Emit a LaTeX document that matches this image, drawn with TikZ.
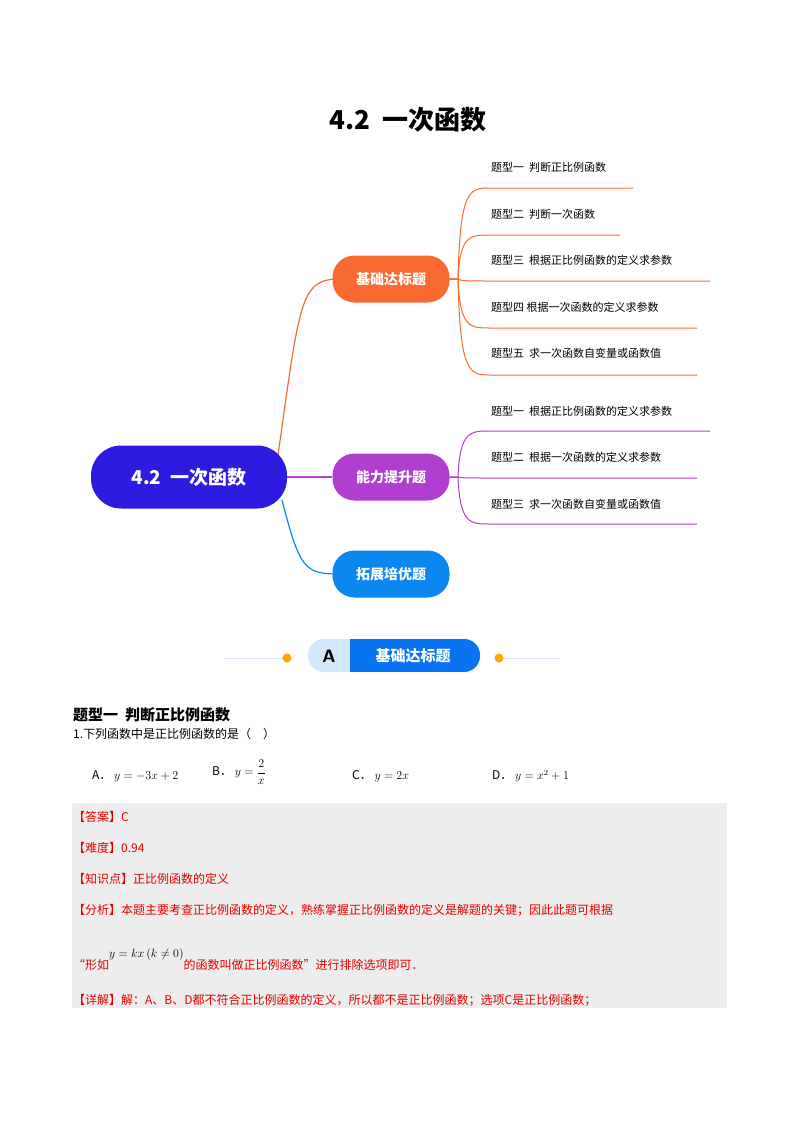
\documentclass[tikz,border=0pt]{standalone}
\usepackage{fontspec}
\newfontfamily\cjk{Noto Sans CJK SC}
\setmainfont{Liberation Serif}
\begin{document}
\begin{tikzpicture}[x=1pt,y=-1pt,
  pill/.style={rounded corners=22pt,minimum width=117pt,minimum height=47pt,text=white,font=\cjk\bfseries\fontsize{14}{16}\selectfont,inner sep=0pt},
  sub/.style={anchor=west,font=\cjk\fontsize{11}{13}\selectfont,inner sep=0pt},
  red/.style={anchor=west,font=\cjk\fontsize{12}{14}\selectfont,text=red!90!black,inner sep=0pt},
  blk/.style={anchor=west,font=\cjk\fontsize{12}{14}\selectfont,inner sep=0pt}]
\definecolor{cO}{HTML}{F96A32}
\definecolor{cP}{HTML}{B03FD0}
\definecolor{cB}{HTML}{0A88F0}
\definecolor{cR}{HTML}{2E1BE0}
\definecolor{cL}{HTML}{D3E8FA}
\useasboundingbox[fill=white] (0,0) rectangle (800,1132);
\node[font=\cjk\bfseries\fontsize{26}{30}\selectfont] (title) at (408,120) {4.2\ \ 一次函数};
% branches
\coordinate (r1) at (278,455);
\coordinate (r3) at (282,500);
\draw[cO,line width=1.2pt] (r1) .. controls (300,300) and (300,279) .. (340,279);
\draw[cB,line width=1.2pt] (r3) .. controls (300,570) and (305,574) .. (340,574);
\node[pill,fill=cR,minimum width=196pt,minimum height=63pt,rounded corners=30pt,font=\cjk\bfseries\fontsize{19}{22}\selectfont] (root) at (189,477) {\textbf{4.2}\ \ 一次函数};
\node[pill,fill=cO] (b1) at (391,279) {基础达标题};
\node[pill,fill=cP] (b2) at (391,477) {能力提升题};
\node[pill,fill=cB] (b3) at (391,574) {拓展培优题};
\draw[cP,line width=1.2pt] (root.east) -- (b2.west);
% orange subs
\foreach \t/\ty/\ly/\lx [count=\i] in {题型一\ \ 判断正比例函数/167/188/633, 题型二\ \ 判断一次函数/214/235/620, 题型三\ \ 根据正比例函数的定义求参数/260/281/710, 题型四\ 根据一次函数的定义求参数/307/328/697, 题型五\ \ 求一次函数自变量或函数值/353/375/697}{
  \node[sub] (o\i) at (491,\ty) {\t};
  \coordinate (oe\i) at (\lx,\ly);
  \draw[cO,line width=1pt] (b1.east) -- (458,279) .. controls (460,\ly) and (470,\ly) .. (490,\ly) -- (oe\i);
}
% purple subs
\foreach \t/\ty/\ly/\lx [count=\i] in {题型一\ \ 根据正比例函数的定义求参数/411/431/710, 题型二\ \ 根据一次函数的定义求参数/457/478/697, 题型三\ \ 求一次函数自变量或函数值/504/524/697}{
  \node[sub] (p\i) at (491,\ty) {\t};
  \coordinate (pe\i) at (\lx,\ly);
  \draw[cP,line width=1pt] (b2.east) -- (458,477) .. controls (460,\ly) and (470,\ly) .. (490,\ly) -- (pe\i);
}
% banner
\coordinate (l1) at (225,658); \coordinate (l2) at (560,658);
\draw[blue!12,line width=0.8pt] (l1) -- (283,658);
\draw[blue!12,line width=0.8pt] (503,658) -- (l2);
\fill[orange!70!yellow] (287,658) circle (4.5);
\fill[orange!70!yellow] (499,658) circle (4.5);
\fill[cL,rounded corners=16pt] (308,639) rectangle (480,672);
\begin{scope}
\clip[rounded corners=16pt] (308,639) rectangle (480,672);
\fill[cB!85!blue] (350,639) rectangle (480,672);
\end{scope}
\node[font=\sffamily\bfseries\fontsize{18}{20}\selectfont] (bA) at (329,656) {A};
\node[font=\cjk\bfseries\fontsize{15}{17}\selectfont,text=white] (bT) at (413,656) {基础达标题};
% question
\node[anchor=west,font=\cjk\bfseries\fontsize{15}{17}\selectfont,inner sep=0pt] (h) at (73,715) {题型一\ \ 判断正比例函数};
\node[blk] (q) at (73,734) {1.下列函数中是正比例函数的是（\quad ）};
\node[blk] (oa) at (92,776) {A．\ $y=-3x+2$};
\node[blk] (ob) at (212,772) {B．\ $y=\displaystyle\frac{2}{x}$};
\node[blk] (oc) at (352,776) {C．\ $y=2x$};
\node[blk] (od) at (492,776) {D．\ $y=x^2+1$};
\fill[gray!14] (72,803) rectangle (727,1008);
\node[red] (a1) at (73,817) {【答案】C};
\node[red] (a2) at (73,848) {【难度】0.94};
\node[red] (a3) at (73,879) {【知识点】正比例函数的定义};
\node[red] (a4) at (73,910) {【分析】本题主要考查正比例函数的定义，熟练掌握正比例函数的定义是解题的关键；因此此题可根据};
\node[red] (a5) at (73,960) {“形如\raisebox{12pt}{\color{black}$y=kx\left(k\neq0\right)$}的函数叫做正比例函数”进行排除选项即可．};
\node[red] (a6) at (73,1000) {【详解】解：A、B、D都不符合正比例函数的定义，所以都不是正比例函数；选项C是正比例函数；};
\end{tikzpicture}
\end{document}
